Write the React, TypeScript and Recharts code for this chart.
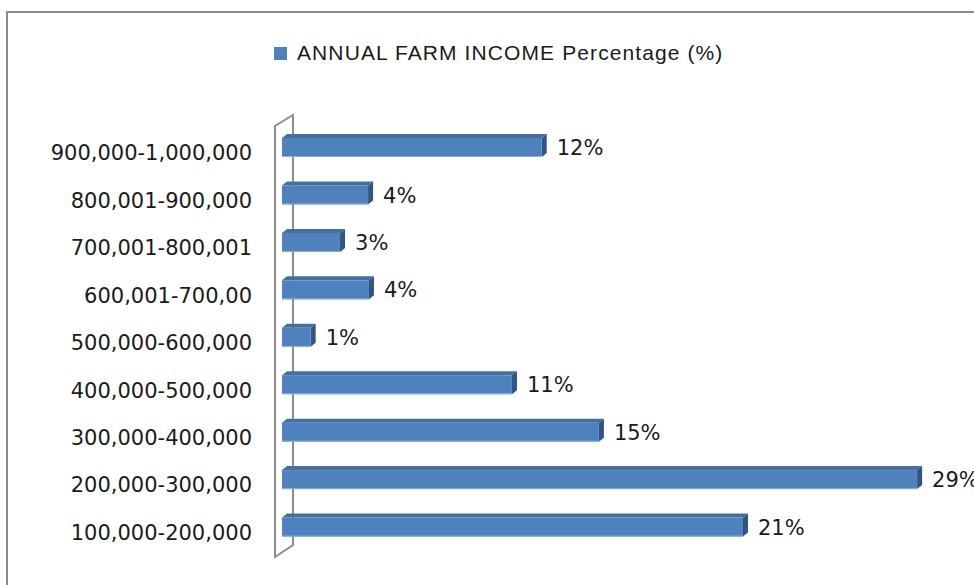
import { Bar, BarChart, LabelList, Legend, ReferenceLine, XAxis, YAxis } from 'recharts';

const RANGES = [
  '100,000-200,000',
  '200,000-300,000',
  '300,000-400,000',
  '400,000-500,000',
  '500,000-600,000',
  '600,001-700,00',
  '700,001-800,001',
  '800,001-900,000',
  '900,000-1,000,000',
];
const SHARE = [21.05, 29, 14.47, 10.5, 1.31, 3.97, 2.65, 3.93, 11.86];
const SHARE_LABELS = ['21%', '29%', '15%', '11%', '1%', '4%', '3%', '4%', '12%'];

const FRONT = '#4F81BD';
const TOP = '#44709F';
const SIDE = '#2F5583';
const FONT = '"DejaVu Sans", sans-serif';

const data = RANGES.map((range, i) => ({ range, share: SHARE[i], label: SHARE_LABELS[i] }));

// 3-D look for the bars: front face, top face and right side
function Bar3D(props: any) {
  const { x, y, width, height } = props;
  if (!width || width <= 0) return null;
  const dx = 5;
  const dy = 4;
  return (
    <g>
      <polygon
        points={`${x},${y} ${x + dx},${y - dy} ${x + width + dx},${y - dy} ${x + width},${y}`}
        fill={TOP}
      />
      <polygon
        points={`${x + width},${y} ${x + width + dx},${y - dy} ${x + width + dx},${y + height - dy} ${x + width},${y + height}`}
        fill={SIDE}
      />
      <rect x={x} y={y} width={width} height={height} fill={FRONT} />
      <line x1={x} x2={x + width} y1={y + height - 0.5} y2={y + height - 0.5} stroke="#8DB0DA" strokeWidth={1} />
    </g>
  );
}

// back wall of the 3-D plot, hung on the zero line
function Wall(props: any) {
  const x = props.x1 ?? props.x;
  const y1 = Math.min(props.y1, props.y2);
  const y2 = Math.max(props.y1, props.y2);
  return (
    <path
      d={`M${x - 7},${y1 + 2} L${x + 11},${y1 - 9} L${x + 11},${y2 - 6} L${x - 7},${y2 + 6} Z`}
      fill="none"
      stroke="#8C8C8C"
      strokeWidth={2}
    />
  );
}

function RangeTick(props: any) {
  const { x, y, payload } = props;
  return (
    <text x={x} y={y + 5} dy="0.36em" textAnchor="end" fontFamily={FONT} fontSize={21} fill="#1a1a1a">
      {payload.value}
    </text>
  );
}

function ShareLabel(props: any) {
  const { x, y, width, height, value } = props;
  return (
    <text
      x={x + width + 15}
      y={y + height / 2}
      dy="0.36em"
      fontFamily={FONT}
      fontSize={21}
      fill="#1a1a1a"
    >
      {value}
    </text>
  );
}

function LegendBox() {
  return (
    <div style={{ display: 'flex', alignItems: 'center' }}>
      <span style={{ width: 13, height: 13, background: FRONT, marginRight: 10 }} />
      <span
        style={{
          fontFamily: '"Liberation Sans", Arial, sans-serif',
          fontSize: 21,
          letterSpacing: 1.1,
          color: '#1a1a1a',
        }}
      >
        ANNUAL FARM INCOME Percentage (%)
      </span>
    </div>
  );
}

export default function App() {
  return (
    <div
      style={{
        position: 'absolute',
        left: 0,
        top: 0,
        width: 974,
        height: 585,
        overflow: 'hidden',
        background: '#fff',
      }}
    >
      <div
        style={{
          position: 'absolute',
          left: 6,
          top: 11,
          width: 1000,
          height: 600,
          border: '2px solid #8C8C8C',
        }}
      />
      <div style={{ position: 'absolute', left: 0, top: 0 }}>
        <BarChart
          width={974}
          height={585}
          data={data}
          layout="vertical"
          margin={{ top: 100, right: 35, bottom: 34, left: 0 }}
          barCategoryGap={0}
        >
          <XAxis type="number" domain={[0, 30]} hide />
          <YAxis
            type="category"
            dataKey="range"
            reversed
            width={282}
            axisLine={false}
            tickLine={false}
            tickSize={0}
            tickMargin={30}
            tick={<RangeTick />}
            interval={0}
          />
          <Legend
            verticalAlign="top"
            content={<LegendBox />}
            wrapperStyle={{ position: 'absolute', top: 41, left: 274, width: 500 }}
          />
          <ReferenceLine x={0} shape={<Wall />} zIndex={0} />
          <Bar dataKey="share" barSize={19} shape={<Bar3D />} isAnimationActive={false}>
            <LabelList dataKey="label" content={<ShareLabel />} />
          </Bar>
        </BarChart>
      </div>
    </div>
  );
}
